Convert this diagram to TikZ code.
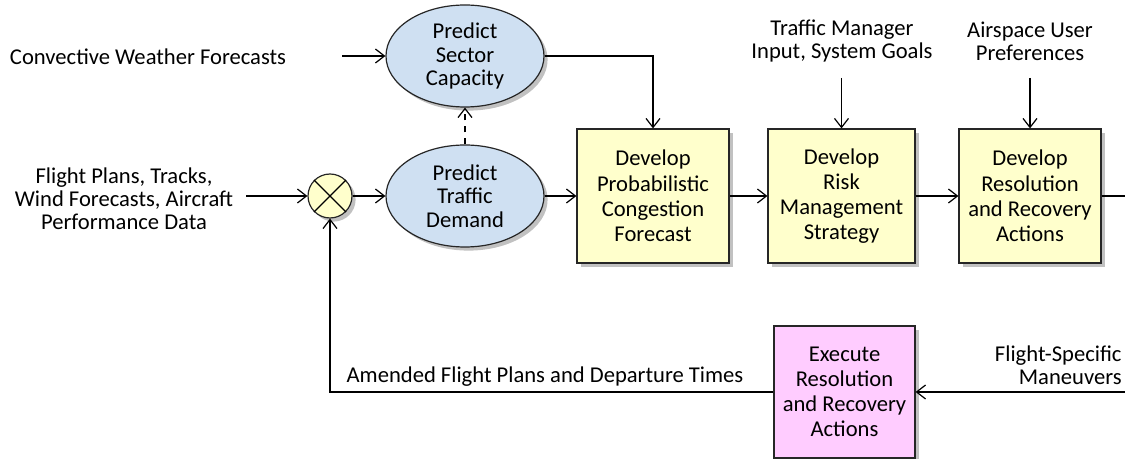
\documentclass[tikz,border=0pt]{standalone}
\usepackage{fontspec}
\setmainfont{Carlito}
\usepackage{tikz}
\usetikzlibrary{arrows.meta}
\usetikzlibrary{shapes.geometric}
\usetikzlibrary{shadows}

\definecolor{predblue}{RGB}{207,224,242}
\definecolor{procyellow}{RGB}{255,255,204}
\definecolor{execpink}{RGB}{255,204,255}

\begin{document}
\begin{tikzpicture}
[x=0.5pt,y=-0.5pt
,shd/.style={drop shadow={shadow xshift=1.8pt,shadow yshift=-1.8pt,opacity=0.35,fill=black!70}}
,pred/.style={ellipse,draw=black!85,line width=0.6pt,fill=predblue,align=center,inner sep=0pt
  ,minimum width=79pt,minimum height=51pt,font=\fontsize{11.3}{11.8}\selectfont,shd}
,proc/.style={rectangle,draw=black!85,line width=0.6pt,fill=procyellow,align=center
  ,minimum height=67pt,font=\fontsize{11.3}{12.6}\selectfont,shd}
,mixer/.style={circle,draw=black!85,line width=0.6pt,fill=procyellow,minimum size=22pt,inner sep=0pt,shd}
,flow/.style={draw,line width=0.6pt,arrows={-Straight Barb[length=4.5pt,width=7pt]}}
,lbl/.style={align=center,inner sep=1pt,font=\fontsize{11.3}{11.6}\selectfont}]
\useasboundingbox (0,0) rectangle (1125,459);
\node[pred] (cap) at (465,56) {Predict\\Sector\\Capacity};
\node[pred] (dem) at (465,196) {Predict\\Traffic\\Demand};
\node[mixer] (mix) at (330,196) {};
\draw[line width=0.6pt] (mix.north west) -- (mix.south east);
\draw[line width=0.6pt] (mix.north east) -- (mix.south west);
\node[proc,minimum width=76pt] (cong) at (653,196) {Develop\\Probabilistic\\Congestion\\Forecast};
\node[proc,minimum width=73.5pt] (risk) at (841.5,196) {Develop\\Risk\\Management\\Strategy};
\node[proc,minimum width=71pt] (res) at (1030,196) {Develop\\Resolution\\and Recovery\\Actions};
\node[proc,fill=execpink,minimum width=70.5pt,minimum height=66pt] (exec) at (844.5,392) {Execute\\Resolution\\and Recovery\\Actions};
\node[lbl] (wx) at (148,57) {Convective Weather Forecasts};
\node[lbl] (fp) at (124,199) {Flight Plans, Tracks,\\Wind Forecasts, Aircraft\\Performance Data};
\node[lbl] (tm) at (842,41) {Traffic Manager\\Input, System Goals};
\node[lbl] (au) at (1030,41) {Airspace User\\Preferences};
\node[lbl,align=right,anchor=east] (fs) at (1124,365) {Flight-Specific\\Maneuvers};
\node[lbl] (amd) at (545,377) {Amended Flight Plans and Departure Times};
\coordinate (wxin) at (342,56);
\coordinate (fpin) at (246,196);
\coordinate (tmin) at (841.5,78);
\coordinate (auin) at (1030,78);
\coordinate (resout) at (1125,196);
\coordinate (fsin) at (1125,392);
\draw[flow] (wxin) -- (cap);
\draw[flow] (fpin) -- (mix);
\draw[flow] (mix) -- (dem);
\draw[flow,dashed] (dem) -- (cap);
\draw[flow] (cap.east) -| (cong.north);
\draw[flow] (dem) -- (cong);
\draw[flow] (cong) -- (risk);
\draw[flow] (risk) -- (res);
\draw[flow] (tmin) -- (risk);
\draw[flow] (auin) -- (res);
\draw[line width=0.6pt] (res) -- (resout);
\draw[flow] (fsin) -- (exec);
\draw[flow] (exec) -| (mix);
\end{tikzpicture}
\end{document}
